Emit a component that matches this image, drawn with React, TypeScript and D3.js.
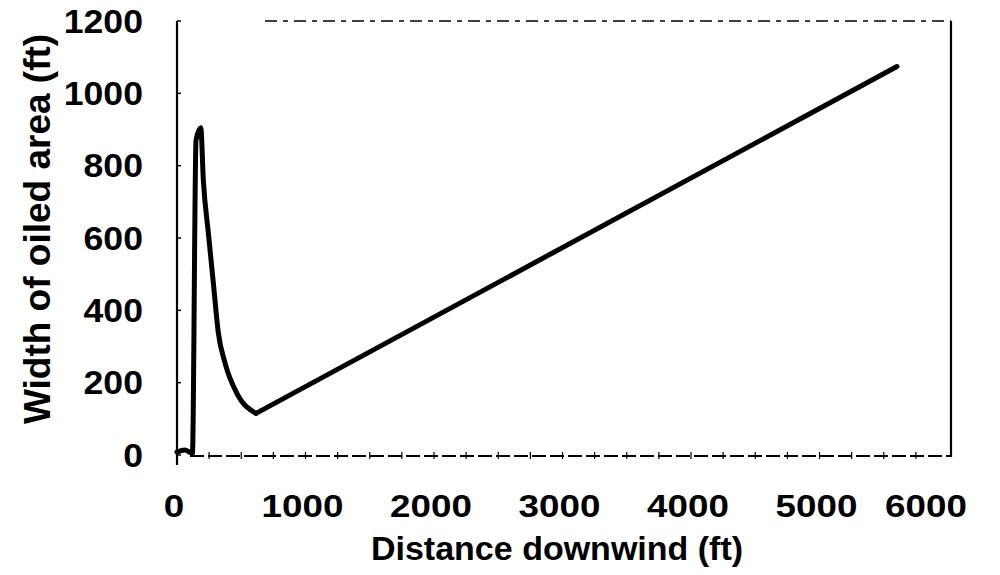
import React from "react";
import * as d3 from "d3";

// near-field spike and decay (smooth)
const distanceFt = [0, 60, 120, 148, 185, 205, 244, 283, 322, 374, 465, 615];
const widthFt = [8, 14, 5, 870, 905, 760, 614, 475, 337, 254, 171, 115];
// far-field straight growth
const farDistanceFt = [615, 5603];
const farWidthFt = [115, 1074];
const xTicks = [0, 1000, 2000, 3000, 4000, 5000, 6000];
const yTicks = [0, 200, 400, 600, 800, 1000, 1200];
const xMinorTicks = d3.range(250, 6000, 250);

const W = 1000;
const H = 575;
const FONT = "'Liberation Sans', Arial, Helvetica, sans-serif";

export default function App() {
  const x = d3.scaleLinear().domain([0, 6000]).range([177, 948]);
  const y = d3.scaleLinear().domain([0, 1200]).range([455, 21]);
  const pts = distanceFt.map((d, i) => [d, widthFt[i]] as [number, number]);
  const farPts = farDistanceFt.map((d, i) => [d, farWidthFt[i]] as [number, number]);
  const smooth = d3
    .line<[number, number]>()
    .x((d) => x(d[0]))
    .y((d) => y(d[1]))
    .curve(d3.curveMonotoneX);
  const straight = d3
    .line<[number, number]>()
    .x((d) => x(d[0]))
    .y((d) => y(d[1]))
    .curve(d3.curveLinear);

  return (
    <svg
      width={W}
      height={H}
      style={{ position: "absolute", left: 0, top: 0, background: "#fff" }}
    >
      <rect x={0} y={0} width={W} height={H} fill="#fff" />
      {/* frame */}
      <line x1={177} x2={177} y1={y(1200)} y2={465} stroke="#000" strokeWidth={2.2} />
      <line x1={951} x2={951} y1={y(1200)} y2={y(0) + 2} stroke="#000" strokeWidth={2.2} />
      <line
        x1={265}
        x2={951}
        y1={y(1200)}
        y2={y(1200)}
        stroke="#000"
        strokeWidth={1.6}
        strokeDasharray="12 6 5 6"
      />
      <line
        x1={190}
        x2={951}
        y1={y(0) + 1}
        y2={y(0) + 1}
        stroke="#000"
        strokeWidth={1.8}
        strokeDasharray="14 4"
      />
      {xMinorTicks.map((t) => (
        <line
          key={"mx" + t}
          x1={x(t)}
          x2={x(t)}
          y1={y(0) - 3}
          y2={y(0) + 4}
          stroke="#000"
          strokeWidth={1.2}
        />
      ))}
      {yTicks.map((t) => (
        <line
          key={"yt" + t}
          x1={177}
          x2={181}
          y1={y(t)}
          y2={y(t)}
          stroke="#000"
          strokeWidth={1.5}
        />
      ))}
      {/* data line */}
      <path
        d={smooth(pts) || ""}
        fill="none"
        stroke="#000"
        strokeWidth={5}
        strokeLinejoin="round"
        strokeLinecap="round"
      />
      <path
        d={straight(farPts) || ""}
        fill="none"
        stroke="#000"
        strokeWidth={5}
        strokeLinejoin="round"
        strokeLinecap="round"
      />
      {/* y tick labels */}
      {yTicks.map((t) => (
        <text
          key={"yl" + t}
          transform={`translate(143,${y(t)}) scale(1.08,1)`}
          textAnchor="end"
          dominantBaseline="central"
          fontFamily={FONT}
          fontSize={33}
          fontWeight="bold"
        >
          {t}
        </text>
      ))}
      {/* x tick labels */}
      {xTicks.map((t) => (
        <text
          key={"xl" + t}
          transform={`translate(${t === 6000 ? x(t) - 22 : x(t) - 3},517) scale(1.15,1)`}
          textAnchor="middle"
          fontFamily={FONT}
          fontSize={32}
          fontWeight="bold"
        >
          {t}
        </text>
      ))}
      {/* axis titles */}
      <text
        x={557}
        y={560}
        textAnchor="middle"
        fontFamily={FONT}
        fontSize={34}
        fontWeight="bold"
      >
        Distance downwind (ft)
      </text>
      <text
        transform="translate(50,229) rotate(-90)"
        textAnchor="middle"
        fontFamily={FONT}
        fontSize={37}
        fontWeight="bold"
      >
        Width of oiled area (ft)
      </text>
    </svg>
  );
}
